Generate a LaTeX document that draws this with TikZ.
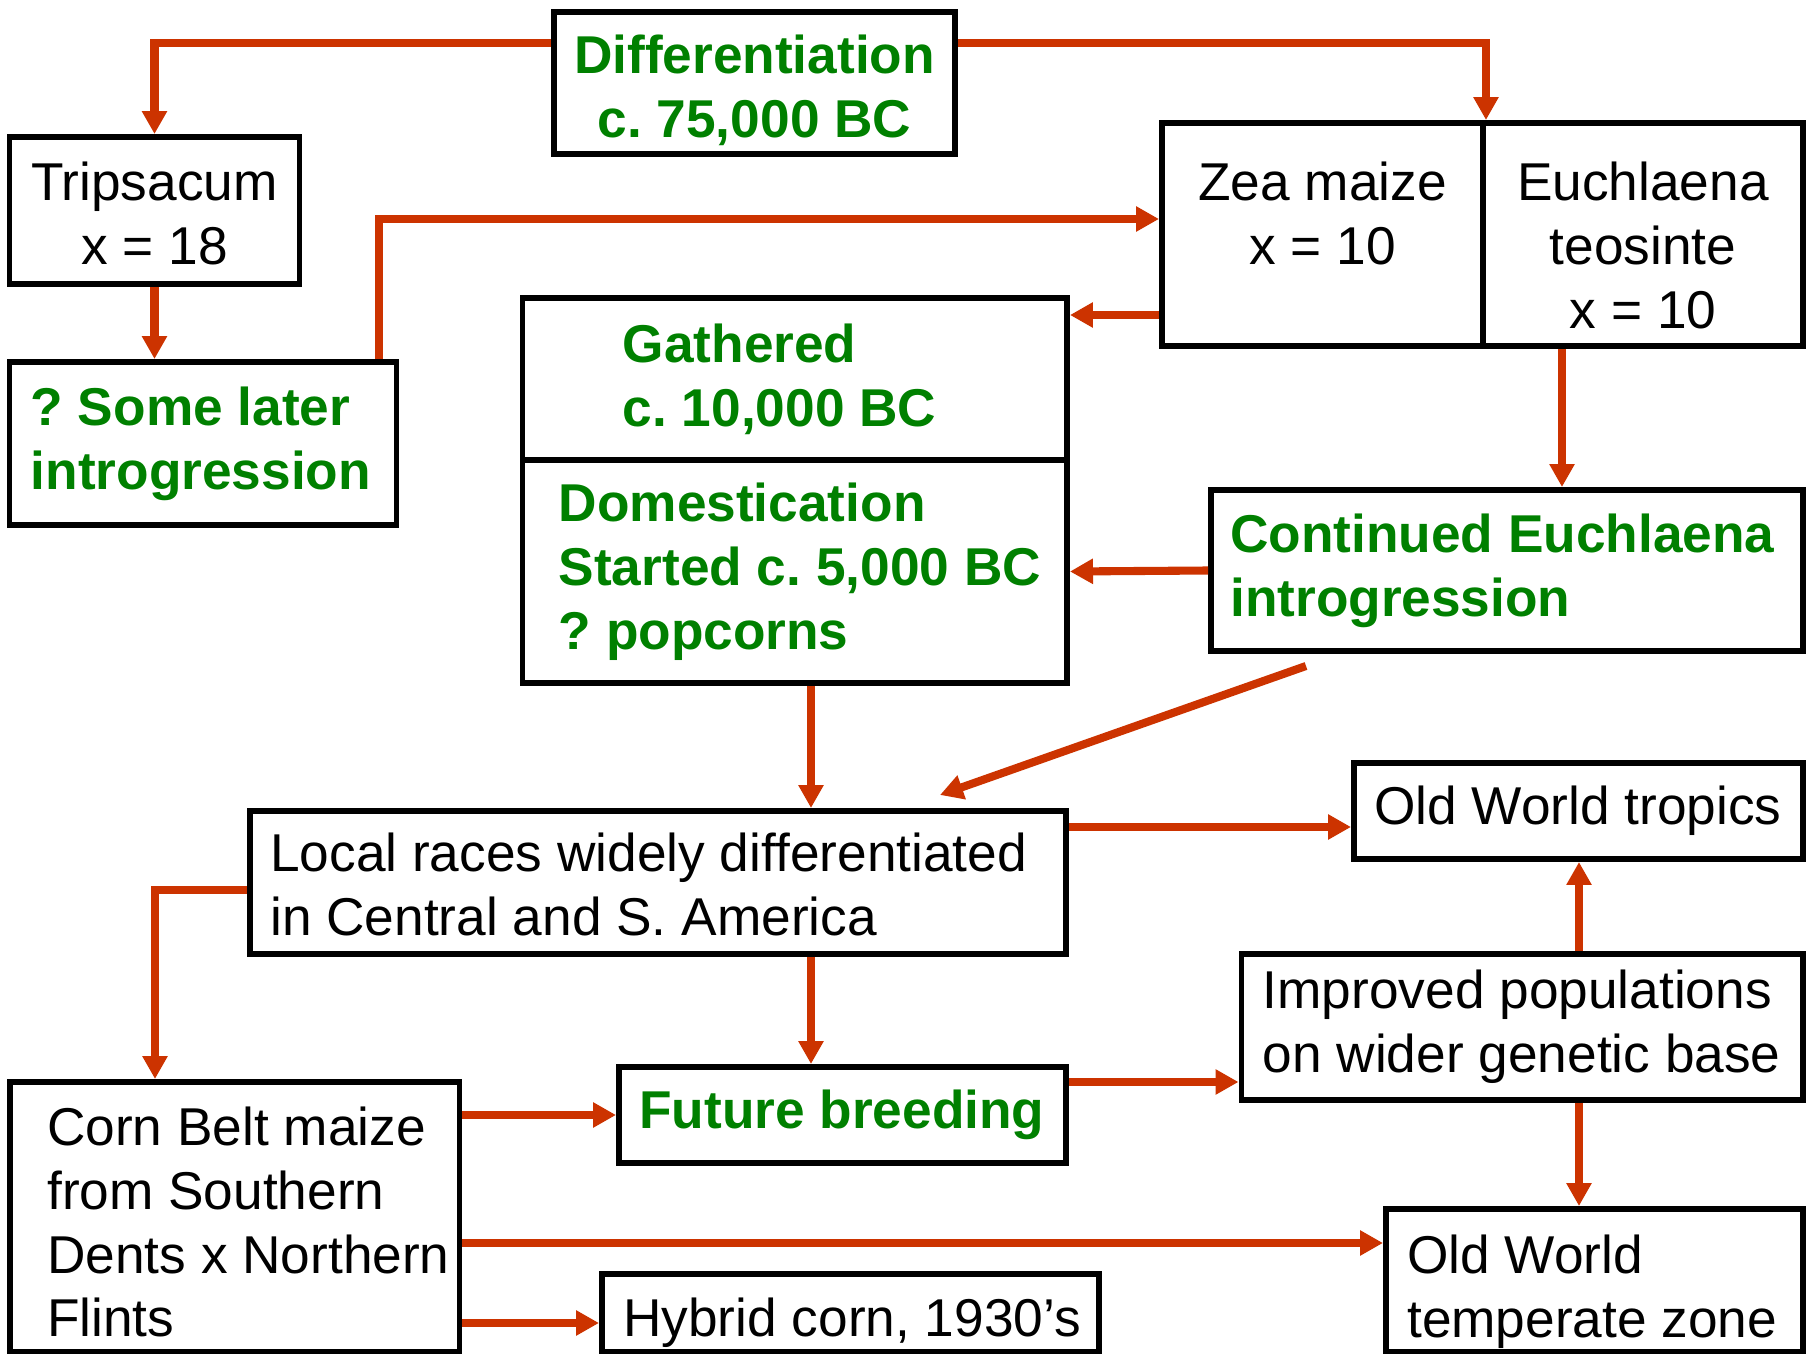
\documentclass[tikz,border=0pt]{standalone}
\usepackage{fontspec}
\setmainfont{Liberation Sans}
\usetikzlibrary{arrows.meta}
\definecolor{arrowred}{RGB}{204,51,0}
\definecolor{labelgreen}{RGB}{0,128,0}
\newcommand{\boxfont}{\fontsize{15.15}{18.2}\selectfont}
\frenchspacing

\begin{document}
\begin{tikzpicture}[
  box/.style={draw, line width=1.7pt, inner sep=0pt},
  txt/.style={font=\boxfont, align=left, inner sep=0pt},
  gtxt/.style={txt, text=labelgreen, font=\boxfont\bfseries},
  arr/.style={draw=arrowred, line width=2.3pt, -{Triangle[length=0.23cm,width=0.24cm]}}]
\useasboundingbox (0,0) rectangle (18.18,-13.54);

% boxes
\node[box, minimum width=4.01cm, minimum height=1.42cm] (diff) at (7.545,-0.83) {};
\node[box, minimum width=2.90cm, minimum height=1.47cm] (trip) at (1.545,-2.105) {};
\node[box, minimum width=3.87cm, minimum height=1.63cm] (later) at (2.03,-4.435) {};
\node[box, minimum width=3.21cm, minimum height=2.23cm] (zea) at (13.225,-2.345) {};
\node[box, minimum width=3.20cm, minimum height=2.23cm] (euch) at (16.43,-2.345) {};
\node[box, minimum width=5.445cm, minimum height=1.62cm] (gath) at (7.9475,-3.79) {};
\node[box, minimum width=5.445cm, minimum height=2.23cm] (dom) at (7.9475,-5.715) {};
\node[box, minimum width=5.92cm, minimum height=1.61cm] (cont) at (15.07,-5.705) {};
\node[box, minimum width=8.16cm, minimum height=1.43cm] (local) at (6.58,-8.825) {};
\node[box, minimum width=4.49cm, minimum height=0.96cm] (trop) at (15.785,-8.11) {};
\node[box, minimum width=5.615cm, minimum height=1.46cm] (impr) at (15.2225,-10.27) {};
\node[box, minimum width=4.47cm, minimum height=0.96cm] (fut) at (8.425,-11.15) {};
\node[box, minimum width=4.495cm, minimum height=2.70cm] (corn) at (2.3475,-12.17) {};
\node[box, minimum width=4.97cm, minimum height=0.78cm] (hyb) at (8.505,-13.13) {};
\node[box, minimum width=4.17cm, minimum height=1.43cm] (temp) at (15.945,-12.805) {};

% texts
\node[gtxt, align=center] (diff-t) at ([yshift=-0.07cm]diff) {Differentiation\\c. 75,000 BC};
\node[txt, align=center] (trip-t) at ([yshift=-0.03cm]trip) {Tripsacum\\x = 18};
\node[gtxt, anchor=west] (later-t) at ([xshift=0.235cm]later.west) {? Some later\\introgression};
\node[txt, align=center, anchor=north] (zea-t) at ([yshift=-0.41cm]zea.north) {Zea maize\\x = 10};
\node[txt, align=center, anchor=north] (euch-t) at ([yshift=-0.41cm]euch.north) {Euchlaena\\teosinte\\x = 10};
\node[gtxt, anchor=west] (gath-t) at ([xshift=1.025cm]gath.west) {Gathered\\c. 10,000 BC};
\node[gtxt, anchor=west] (dom-t) at ([xshift=0.385cm]dom.west) {Domestication\\Started c. 5,000 BC\\? popcorns};
\node[gtxt, anchor=west] (cont-t) at ([xshift=0.215cm]cont.west) {Continued Euchlaena\\introgression};
\node[txt, anchor=west] (local-t) at ([xshift=0.225cm,yshift=-0.02cm]local.west) {Local races widely differentiated\\in Central and S. America};
\node[txt, anchor=west] (trop-t) at ([xshift=0.225cm]trop.west) {Old World tropics};
\node[txt, anchor=west] (impr-t) at ([xshift=0.235cm]impr.west) {Improved populations\\on wider genetic base};
\node[gtxt, anchor=west] (fut-t) at ([xshift=0.225cm]fut.west) {Future breeding};
\node[txt, anchor=west] (corn-t) at ([xshift=0.395cm,yshift=-0.05cm]corn.west) {Corn Belt maize\\from Southern\\Dents x Northern\\Flints};
\node[txt, anchor=west] (hyb-t) at ([xshift=0.235cm,yshift=-0.10cm]hyb.west) {Hybrid corn, 1930’s};
\node[txt, anchor=west] (temp-t) at ([xshift=0.235cm,yshift=-0.11cm]temp.west) {Old World\\temperate zone};

% arrows
\draw[arr] (diff.west |- 0,-0.43) -| (trip.north);
\draw[arr] (diff.east |- 0,-0.43) -| (zea.north east);
\draw[arr] (trip.south) -- (trip.south |- later.north);
\draw[arr] (later.north -| 3.79,0) |- (zea.west |- 0,-2.19);
\draw[arr] (zea.west |- 0,-3.15) -- (gath.east |- 0,-3.15);
\draw[arr] (euch.south -| 15.62,0) -- (cont.north -| 15.62,0);
\draw[arr] (cont.west) -- (dom.east);
\coordinate (slant-start) at (13.06,-6.66);
\coordinate (slant-end) at (9.40,-7.95);
\draw[arr] (slant-start) -- (slant-end);
\draw[arr] (dom.south -| 8.11,0) -- (local.north -| 8.11,0);
\draw[arr] (local.east |- 0,-8.27) -- (trop.west |- 0,-8.27);
\draw[arr] (local.west |- 0,-8.90) -| (corn.north -| 1.55,0);
\draw[arr] (local.south -| 8.11,0) -- (fut.north -| 8.11,0);
\draw[arr] (fut.east |- 0,-10.82) -- (impr.west |- 0,-10.82);
\draw[arr] (impr.north -| 15.79,0) -- (trop.south -| 15.79,0);
\draw[arr] (impr.south -| 15.79,0) -- (temp.north -| 15.79,0);
\draw[arr] (corn.east |- 0,-11.15) -- (fut.west |- 0,-11.15);
\draw[arr] (corn.east |- 0,-12.43) -- (temp.west |- 0,-12.43);
\draw[arr] (corn.east |- 0,-13.23) -- (hyb.west |- 0,-13.23);
\end{tikzpicture}
\end{document}
